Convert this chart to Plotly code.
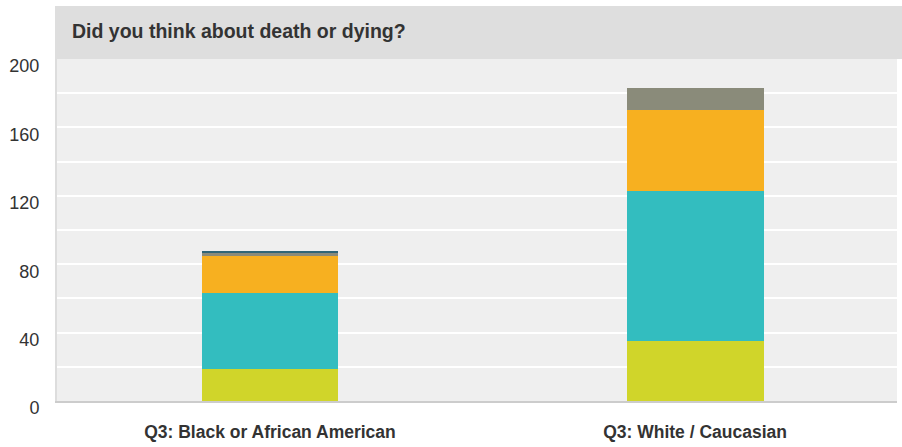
import plotly.graph_objects as go

categories = ["Q3: Black or African American", "Q3: White / Caucasian"]
series_names = ["Series 1", "Series 2", "Series 3", "Series 4", "Series 5"]
series_values = [
    [19, 35],
    [44, 88],
    [22, 47],
    [2, 13],
    [1, 0],
]
colors = ["#d0d52a", "#33bdbf", "#f7b020", "#8a8b7a", "#2f6577"]
y_ticks = [0, 40, 80, 120, 160, 200]
title_text = "Did you think about death or dying?"

fig = go.Figure()
for name, vals, c in zip(series_names, series_values, colors):
    fig.add_trace(go.Bar(x=categories, y=vals, name=name, marker=dict(color=c, line=dict(width=0))))

L, R, T, B = 57, 5, 59, 46
W, H = 902, 447
pw = W - L - R
ph = H - T - B

fig.update_layout(
    width=W, height=H,
    barmode="stack",
    bargap=0.678,
    showlegend=False,
    margin=dict(l=L, r=R, t=T, b=B, autoexpand=False),
    paper_bgcolor="white",
    plot_bgcolor="#efefef",
    font=dict(family="Liberation Sans, Arial, sans-serif", color="#333333"),
    shapes=[
        dict(type="rect", xref="paper", yref="paper",
             x0=(55 - L) / pw, x1=(W - L) / pw,
             y0=1.0, y1=1.0 + (T - 6) / ph,
             fillcolor="#dedede", line=dict(width=0), layer="below"),
    ],
    annotations=[
        dict(text="<b>" + title_text + "</b>", xref="paper", yref="paper",
             x=(70 - L) / pw, y=1.0 + (T - 31) / ph, xanchor="left", yanchor="middle",
             showarrow=False, font=dict(size=19.5, color="#333333")),
    ],
)
fig.update_yaxes(
    range=[0, 200], tickvals=y_ticks, showgrid=True, gridcolor="white", gridwidth=1.5,
    minor=dict(dtick=20, showgrid=True, gridcolor="white", gridwidth=1.5),
    zeroline=False, showline=True, linecolor="#dddddd", linewidth=2,
    tickfont=dict(size=18, color="#333333"), ticks="", ticklabelstandoff=12,
    ticklabelshift=7, automargin=False,
)
fig.update_xaxes(
    range=[-0.501, 1.475],
    showline=True, linecolor="#cccccc", linewidth=2, ticks="",
    tickfont=dict(size=17.5, color="#333333"), ticklabelstandoff=14,
    tickvals=categories, ticktext=["<b>" + c + "</b>" for c in categories],
    automargin=False,
)
fig.write_html("out.html", config={"displayModeBar": False},
               post_script="document.body.style.margin='0px';")
